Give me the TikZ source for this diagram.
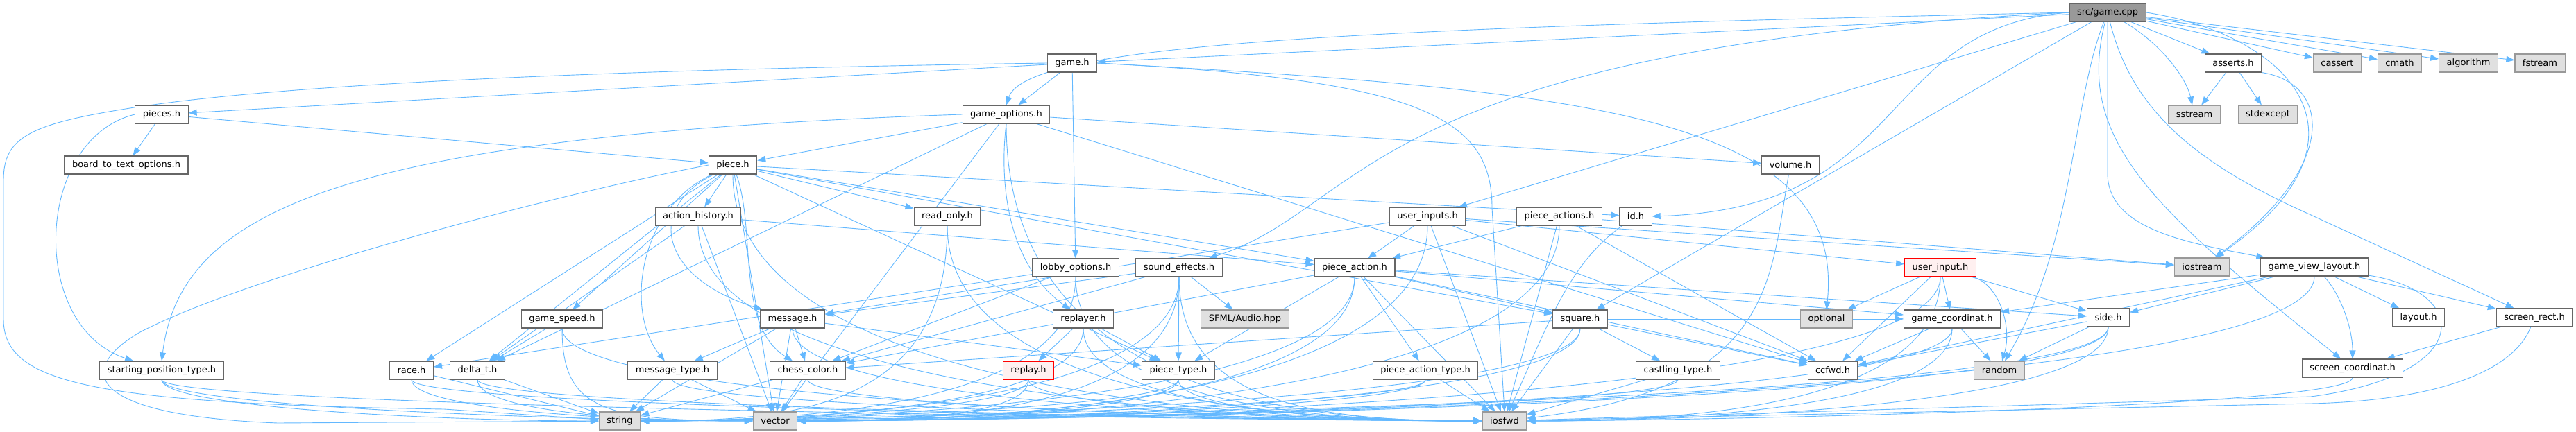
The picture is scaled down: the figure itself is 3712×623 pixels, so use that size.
\documentclass[tikz,border=0pt]{standalone}
\usepackage{fontspec}
\setmainfont{DejaVu Sans}
\usetikzlibrary{arrows.meta, backgrounds}

\definecolor{edgeblue}{HTML}{63B8FF}
\definecolor{boxline}{HTML}{666666}
\definecolor{sysfill}{HTML}{E0E0E0}
\definecolor{sysline}{HTML}{999999}
\definecolor{rootfill}{HTML}{999999}
\definecolor{redfill}{HTML}{FFF0F0}

\begin{document}
\begin{tikzpicture}[
  x=1pt, y=-1pt,
  box/.style={rectangle, draw=boxline, fill=white, line width=1.1pt, minimum height=26pt, inner xsep=11pt, inner ysep=0pt, font=\fontsize{13}{15}\selectfont},
  sysbox/.style={box, draw=sysline, fill=sysfill},
  rootbox/.style={box, draw=boxline, fill=rootfill},
  redbox/.style={box, draw=red, fill=redfill},
  arr/.style={-{Triangle[length=12pt, width=9pt]}, draw=edgeblue, line width=0.9pt},
  fromright/.style={to path={.. controls (\tikztostart |- 0,588) and ([xshift=220pt]\tikztotarget.east) .. (\tikztotarget.east) \tikztonodes}},
  fromleft/.style={to path={.. controls (\tikztostart |- 0,588) and ([xshift=-220pt]\tikztotarget.west) .. (\tikztotarget.west) \tikztonodes}}
]
  \useasboundingbox (0,0) rectangle (3712,623);

  % row 0
  \node[rootbox] (root) at (3037,18) {src/game.cpp};
  % row 1
  \node[box] (game) at (1545,91) {game.h};
  \node[box] (asserts) at (3218,91) {asserts.h};
  \node[sysbox] (cassert) at (3368,91) {cassert};
  \node[sysbox] (cmath) at (3458,91) {cmath};
  \node[sysbox] (algorithm) at (3557,91) {algorithm};
  \node[sysbox] (fstream) at (3660,91) {fstream};
  % row 2
  \node[box] (pieces) at (233,165) {pieces.h};
  \node[box] (gameopt) at (1450,165) {game\_options.h};
  \node[sysbox] (sstream) at (3162,165) {sstream};
  \node[sysbox] (stdexcept) at (3268,165) {stdexcept};
  % row 3
  \node[box] (btto) at (182,238) {board\_to\_text\_options.h};
  \node[box] (piece) at (1056,238) {piece.h};
  \node[box] (volume) at (2580,238) {volume.h};
  % row 4
  \node[box] (actionhist) at (1006,312) {action\_history.h};
  \node[box] (readonly) at (1365,312) {read\_only.h};
  \node[box] (userinputs) at (2057,312) {user\_inputs.h};
  \node[box] (pieceactions) at (2247,312) {piece\_actions.h};
  \node[box] (id) at (2357,312) {id.h};
  % row 5
  \node[box] (lobby) at (1550,386) {lobby\_options.h};
  \node[box] (soundfx) at (1699,386) {sound\_effects.h};
  \node[box] (pieceaction) at (1952,386) {piece\_action.h};
  \node[redbox] (userinput) at (2796,386) {user\_input.h};
  \node[sysbox] (iostream) at (3173,385) {iostream};
  \node[box] (gvl) at (3335,385) {game\_view\_layout.h};
  % row 6
  \node[box] (gamespeed) at (810,460) {game\_speed.h};
  \node[box] (message) at (1142,460) {message.h};
  \node[box] (replayer) at (1561,460) {replayer.h};
  \node[sysbox] (sfml) at (1794,460) {SFML/Audio.hpp};
  \node[box] (square) at (2277,460) {square.h};
  \node[sysbox] (optional) at (2632,460) {optional};
  \node[box] (gamecoord) at (2813,460) {game\_coordinat.h};
  \node[box] (side) at (3038,458) {side.h};
  \node[box] (layout) at (3485,458) {layout.h};
  \node[box] (screenrect) at (3652,458) {screen\_rect.h};
  % row 7
  \node[box] (startpos) at (233,534) {starting\_position\_type.h};
  \node[box] (race) at (593,534) {race.h};
  \node[box] (deltat) at (688,534) {delta\_t.h};
  \node[box] (msgtype) at (969,534) {message\_type.h};
  \node[box] (chesscolor) at (1164,534) {chess\_color.h};
  \node[redbox] (replay) at (1482,534) {replay.h};
  \node[box] (piecetype) at (1698,534) {piece\_type.h};
  \node[box] (patype) at (2054,534) {piece\_action\_type.h};
  \node[box] (castling) at (2418,534) {castling\_type.h};
  \node[box] (ccfwd) at (2641,534) {ccfwd.h};
  \node[sysbox] (random) at (2881,534) {random};
  \node[box] (screencoord) at (3390,531) {screen\_coordinat.h};
  % row 8
  \node[sysbox] (string) at (893,607) {string};
  \node[sysbox] (vector) at (1117,607) {vector};
  \node[sysbox] (iosfwd) at (2168,607) {iosfwd};

  \begin{scope}[on background layer]
  % src/game.cpp
  \draw[arr] (root) -- (game);
  \draw[arr] (root.west) .. controls (2000,40) and (1480,60) .. (gameopt.north);
  \draw[arr] (root) -- (asserts);
  \draw[arr] (root) -- (cassert);
  \draw[arr] (root) -- (cmath);
  \draw[arr] (root) -- (algorithm);
  \draw[arr] (root) -- (fstream);
  \draw[arr] (root) .. controls (3110,60) and (3150,110) .. (sstream);
  \draw[arr] (root.east) .. controls (3300,50) and (3440,200) .. (iostream);
  \draw[arr] (root.south) -- (3037,250) .. controls (3037,330) and (3150,350) .. (gvl);
  \draw[arr] (root) .. controls (3070,150) and (3150,230) .. (3330,310) -- (screenrect);
  \draw[arr] (root) .. controls (2985,150) and (2990,350) .. (random);
  \draw[arr] (root) -- (square);
  \draw[arr] (root.west) .. controls (2700,40) and (2760,300) .. (id.east);
  \draw[arr] (root) -- (userinputs);
  \draw[arr] (root.west) .. controls (1960,70) and (1970,300) .. (soundfx);
  \draw[arr] (root) .. controls (2990,200) and (3100,300) .. (screencoord);
  % asserts.h
  \draw[arr] (asserts) -- (sstream);
  \draw[arr] (asserts) -- (stdexcept);
  \draw[arr] (asserts.south east) .. controls (3360,120) and (3370,240) .. (iostream);
  % game.h
  \draw[arr] (game) -- (gameopt);
  \draw[arr] (game) -- (lobby);
  \draw[arr] (game) -- (pieces);
  \draw[arr] (game.east) .. controls (2300,130) and (2660,170) .. (optional.north);
  \draw[arr] (game.east) .. controls (2050,115) and (2150,170) .. (2150,300) -- (iosfwd.north);
  \draw[arr] (game.west) .. controls (900,100) and (400,120) .. (175,158) .. controls (40,180) and (5,200) .. (5,260) -- (5,460) .. controls (5,550) and (120,582) .. (640,590) -- (string);
  % game_options.h
  \draw[arr] (gameopt) -- (piece);
  \draw[arr] (gameopt.west) .. controls (500,195) and (260,300) .. (startpos.north);
  \draw[arr] (gameopt.south) .. controls (1440,260) and (1450,380) .. (replayer);
  \draw[arr] (gameopt) -- (volume);
  \draw[arr] (gameopt) -- (deltat);
  \draw[arr] (gameopt) -- (ccfwd);
  \draw[arr] (gameopt) to[fromleft] (iosfwd);
  \draw[arr] (gameopt) -- (vector);
  % pieces.h
  \draw[arr] (pieces) -- (btto);
  \draw[arr] (pieces.west) .. controls (50,200) and (40,470) .. (startpos);
  \draw[arr] (pieces) -- (piece);
  % piece.h
  \draw[arr] (piece) -- (actionhist);
  \draw[arr] (piece) -- (gamespeed);
  \draw[arr] (piece) .. controls (920,300) and (900,450) .. (msgtype);
  \draw[arr] (piece) .. controls (930,300) and (950,400) .. (message);
  \draw[arr] (piece) .. controls (1090,330) and (1060,470) .. (chesscolor);
  \draw[arr] (piece) -- (deltat);
  \draw[arr] (piece) -- (race);
  \draw[arr] (piece) -- (id);
  \draw[arr] (piece) -- (readonly);
  \draw[arr] (piece) -- (pieceaction);
  \draw[arr] (piece) -- (piecetype);
  \draw[arr] (piece) -- (square);
  \draw[arr] (piece) to[fromleft] (iosfwd);
  \draw[arr] (piece) -- (vector);
  \draw[arr] (piece.west) .. controls (800,280) and (350,400) .. (200,480) .. controls (100,540) and (140,600) .. (400,610) -- (string);
  % action_history.h
  \draw[arr] (actionhist) -- (deltat);
  \draw[arr] (actionhist) -- (pieceaction);
  \draw[arr] (actionhist) -- (vector);
  \draw[arr] (actionhist) to[fromleft] (iosfwd);
  % read_only.h
  \draw[arr] (readonly) to[fromright] (string);
  \draw[arr] (readonly) to[fromleft] (iosfwd);
  % game_speed.h
  \draw[arr] (gamespeed) -- (deltat);
  \draw[arr] (gamespeed) to[fromleft] (vector);
  \draw[arr] (gamespeed) to[fromleft] (iosfwd);
  % message.h
  \draw[arr] (message) -- (msgtype);
  \draw[arr] (message) -- (chesscolor);
  \draw[arr] (message) -- (piecetype);
  \draw[arr] (message) -- (vector);
  \draw[arr] (message) -- (string);
  \draw[arr] (message) to[fromleft] (iosfwd);
  % message_type.h, chess_color.h, delta_t.h, race.h
  \draw[arr] (msgtype) -- (string);
  \draw[arr] (msgtype) -- (vector);
  \draw[arr] (msgtype) to[fromleft] (iosfwd);
  \draw[arr] (chesscolor) -- (string);
  \draw[arr] (chesscolor) -- (vector);
  \draw[arr] (chesscolor) to[fromleft] (iosfwd);
  \draw[arr] (deltat) -- (string);
  \draw[arr] (deltat) to[fromleft] (vector);
  \draw[arr] (deltat) to[fromleft] (iosfwd);
  \draw[arr] (race) -- (string);
  \draw[arr] (race) to[fromleft] (vector);
  \draw[arr] (race) to[fromleft] (iosfwd);
  % starting_position_type.h
  \draw[arr] (startpos) to[fromleft] (string);
  \draw[arr] (startpos) to[fromleft] (vector);
  \draw[arr] (startpos) to[fromleft] (iosfwd);
  % lobby_options.h
  \draw[arr] (lobby) -- (race);
  \draw[arr] (lobby) -- (chesscolor);
  \draw[arr] (lobby) to[fromright] (string);
  \draw[arr] (lobby) to[fromleft] (iosfwd);
  % sound_effects.h
  \draw[arr] (soundfx) -- (sfml);
  \draw[arr] (soundfx) -- (piecetype);
  \draw[arr] (soundfx) -- (message);
  \draw[arr] (soundfx) -- (chesscolor);
  \draw[arr] (soundfx) to[fromright] (string);
  \draw[arr] (soundfx) to[fromright] (vector);
  \draw[arr] (soundfx) to[fromleft] (iosfwd);
  % replayer.h, replay.h, piece_type.h
  \draw[arr] (replayer) -- (replay);
  \draw[arr] (replayer) -- (piecetype);
  \draw[arr] (replayer) to[fromright] (string);
  \draw[arr] (replayer) to[fromleft] (iosfwd);
  \draw[arr] (replay) to[fromright] (string);
  \draw[arr] (replay) to[fromright] (vector);
  \draw[arr] (replay) to[fromleft] (iosfwd);
  \draw[arr] (piecetype) to[fromright] (string);
  \draw[arr] (piecetype) to[fromright] (vector);
  \draw[arr] (piecetype) to[fromleft] (iosfwd);
  % piece_action.h
  \draw[arr] (pieceaction) -- (patype);
  \draw[arr] (pieceaction) -- (square);
  \draw[arr] (pieceaction) -- (piecetype);
  \draw[arr] (pieceaction) -- (chesscolor);
  \draw[arr] (pieceaction) -- (side);
  \draw[arr] (pieceaction) -- (ccfwd);
  \draw[arr] (pieceaction) -- (gamecoord);
  \draw[arr] (pieceaction) -- (iosfwd);
  \draw[arr] (pieceaction) to[fromright] (vector);
  \draw[arr] (pieceaction) to[fromright] (string);
  % piece_actions.h
  \draw[arr] (pieceactions) -- (pieceaction);
  \draw[arr] (pieceactions) -- (iostream);
  \draw[arr] (pieceactions) -- (ccfwd);
  \draw[arr] (pieceactions) to[fromright] (vector);
  \draw[arr] (pieceactions) -- (iosfwd);
  % user_inputs.h
  \draw[arr] (userinputs) -- (pieceaction);
  \draw[arr] (userinputs) -- (userinput);
  \draw[arr] (userinputs) -- (iostream);
  \draw[arr] (userinputs) -- (message);
  \draw[arr] (userinputs) -- (ccfwd);
  \draw[arr] (userinputs) to[fromright] (vector);
  \draw[arr] (userinputs) -- (iosfwd);
  % user_input.h
  \draw[arr] (userinput) -- (optional);
  \draw[arr] (userinput) -- (gamecoord);
  \draw[arr] (userinput) -- (ccfwd);
  \draw[arr] (userinput) .. controls (2880,410) and (2900,470) .. (random);
  \draw[arr] (userinput) -- (side);
  \draw[arr] (userinput) to[fromright] (iosfwd);
  \draw[arr] (userinput) to[fromright] (vector);
  % piece_action_type.h
  \draw[arr] (patype) to[fromright] (string);
  \draw[arr] (patype) to[fromright] (vector);
  \draw[arr] (patype) -- (iosfwd);
  % square.h
  \draw[arr] (square) -- (castling);
  \draw[arr] (square) -- (chesscolor);
  \draw[arr] (square) -- (gamecoord);
  \draw[arr] (square) -- (ccfwd);
  \draw[arr] (square) -- (iosfwd);
  \draw[arr] (square) to[fromright] (vector);
  \draw[arr] (square) to[fromright] (string);
  \draw[arr] (castling) -- (iosfwd);
  \draw[arr] (castling) to[fromright] (vector);
  % id.h, volume.h
  \draw[arr] (id) .. controls (2260,380) and (2230,470) .. (iosfwd);
  \draw[arr] (volume) .. controls (2550,400) and (2560,560) .. (iosfwd);
  % game_coordinat.h, side.h
  \draw[arr] (gamecoord) -- (ccfwd);
  \draw[arr] (gamecoord) -- (random);
  \draw[arr] (gamecoord) to[fromright] (iosfwd);
  \draw[arr] (gamecoord) to[fromright] (vector);
  \draw[arr] (side) -- (random);
  \draw[arr] (side) -- (ccfwd);
  \draw[arr] (side) to[fromright] (iosfwd);
  \draw[arr] (side) to[fromright] (vector);
  \draw[arr] (side) to[fromright] (string);
  % game_view_layout.h
  \draw[arr] (gvl) -- (layout);
  \draw[arr] (gvl) -- (screenrect);
  \draw[arr] (gvl) .. controls (3370,420) and (3390,470) .. (screencoord);
  \draw[arr] (gvl) -- (side);
  \draw[arr] (gvl) -- (gamecoord);
  \draw[arr] (gvl) -- (ccfwd);
  \draw[arr] (gvl) .. controls (3560,420) and (3570,540) .. (3330,572) -- (iosfwd);
  \draw[arr] (gvl) to[fromright] (vector);
  % screen_rect.h, screen_coordinat.h
  \draw[arr] (screenrect) -- (screencoord);
  \draw[arr] (screenrect) .. controls (3620,540) and (3500,578) .. (3330,582) -- (iosfwd);
  \draw[arr] (screencoord) to[fromright] (iosfwd);
  \end{scope}
\end{tikzpicture}
\end{document}
